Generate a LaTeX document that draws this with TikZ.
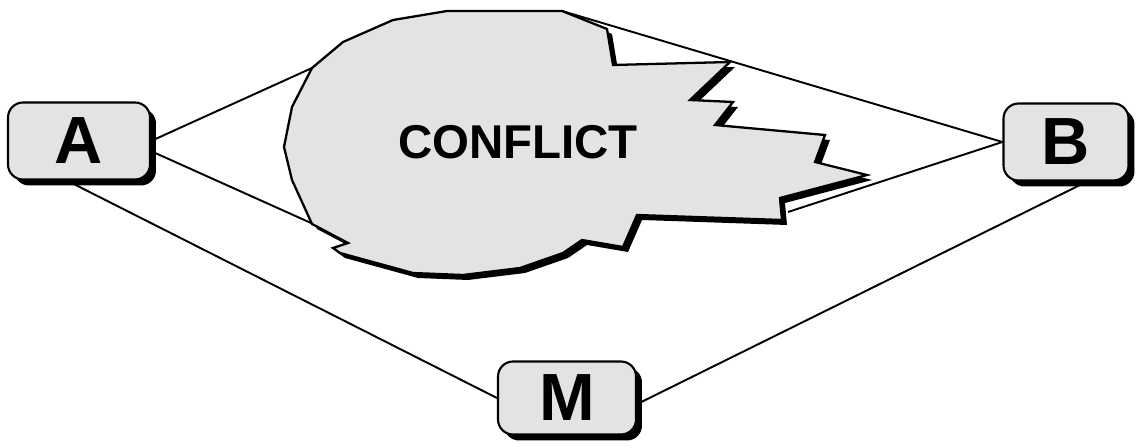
\documentclass[tikz,border=0pt]{standalone}
\usepackage{fontspec}
\setmainfont{Liberation Sans}
\usetikzlibrary{shadows}

\definecolor{boxgray}{RGB}{227,227,227}

\newcommand{\cloudoutline}{(447,11)--(562,11)--(607,29)--(613,65)--(730,62)--(690,100)--(733,102)--(715,125)--(825,135)--(815,162)--(867,175)--(780,198)--(782,220)--(637,215)--(623,247)--(582,240)--(563,253)--(520,268)--(463,275)--(413,273)--(340,253)--(333,248)--(348,243)--(312,224)--(292,180)--(284,147)--(292,107)--(312,68)--(343,42)--(393,20)--cycle}

\begin{document}
\begin{tikzpicture}[x=0.02cm,y=-0.02cm,line width=1.1pt,
  party/.style={draw,fill=boxgray,rounded corners=0.3cm,line width=1.2pt,
    minimum height=1.54cm,font=\fontsize{38}{40}\selectfont\bfseries,
    drop shadow={shadow xshift=0.12cm,shadow yshift=-0.12cm,fill=black,opacity=1}}]

\useasboundingbox (0,0) rectangle (1136,448);

\node[party,minimum width=2.84cm] (A) at (79,141) {A};
\node[party,minimum width=2.5cm] (B) at (1066,142) {B};
\node[party,minimum width=2.76cm,minimum height=1.46cm] (M) at (567,398) {M};

\coordinate (ctop) at (312,68);
\coordinate (cbot) at (311,223);
\coordinate (ctip) at (562,11);
\coordinate (cright) at (788,212);

% lines behind the cloud
\draw (A.east)--(ctop);
\draw (A.-8)--(cbot);
\draw (B.west)--(ctip);
\draw (B.west)--(cright);
\draw (A.253)--(M.west);
\draw (B.-62)--(M.-5);

% the cloud
\fill[black,shift={(5,5)}] \cloudoutline;
\draw[fill=boxgray,line width=1.3pt,line join=miter] \cloudoutline;

\node[font=\fontsize{27}{30}\selectfont\bfseries] (conflict) at (518,142) {CONFLICT};

\end{tikzpicture}
\end{document}
